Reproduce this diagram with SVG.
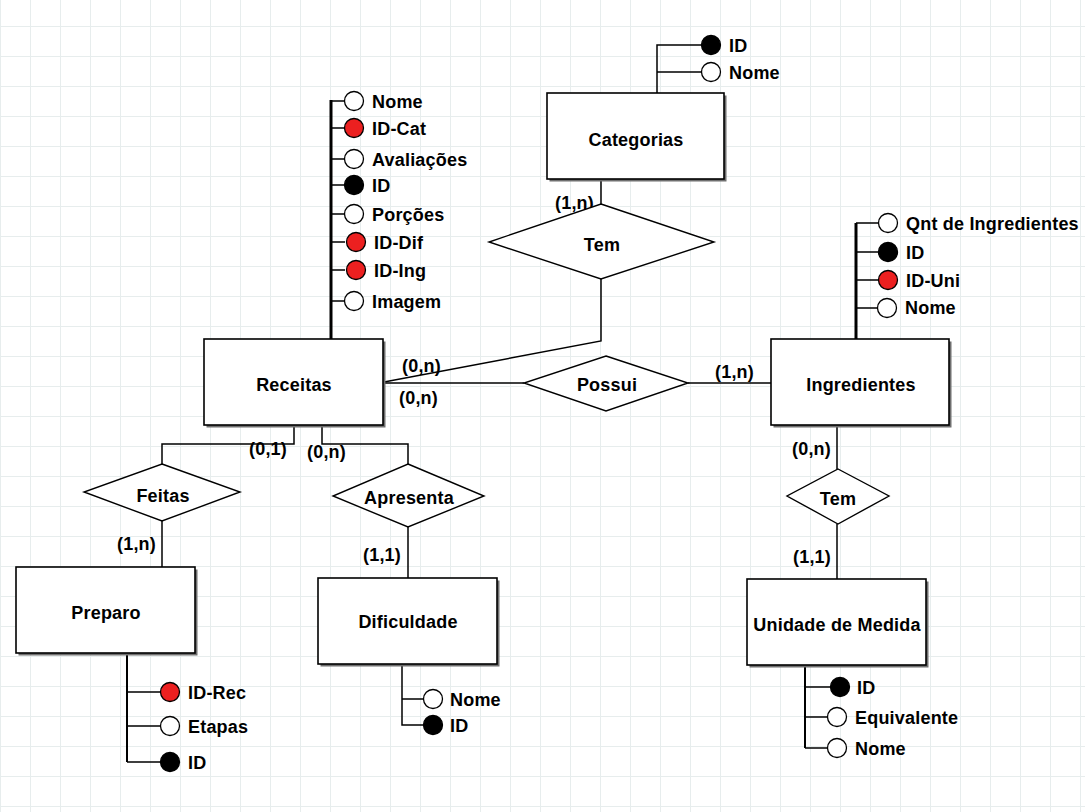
<svg xmlns="http://www.w3.org/2000/svg" width="1085" height="812" viewBox="0 0 1085 812">
<defs>
<pattern id="grid" width="30" height="30" patternUnits="userSpaceOnUse" x="0" y="26">
<path d="M0 0.5H30M0.5 0V30" fill="none" stroke="#e7eded" stroke-width="1"/>
</pattern>
<style>
text{font-family:"Liberation Sans",Arial,sans-serif;font-weight:bold;font-size:18px;letter-spacing:0.2px;fill:#000}
.c{text-anchor:middle}
.box{fill:#fff;stroke:#000;stroke-width:1.6}
.sh{fill:#6f6f6f}
.dia{fill:#fff;stroke:#000;stroke-width:1.4}
.ln{fill:none;stroke:#000;stroke-width:1.5}
.at{fill:none;stroke:#000;stroke-width:2}
.at3{fill:none;stroke:#000;stroke-width:3}
.o{fill:#fff;stroke:#000;stroke-width:1.3}
.k{fill:#000;stroke:#000;stroke-width:1.3}
.r{fill:#ec2020;stroke:#000;stroke-width:1.3}
</style>
</defs>
<rect width="1085" height="812" fill="#fff"/>
<rect width="1085" height="812" fill="url(#grid)"/>

<g id="connectors">
<path class="ln" d="M601 179V204"/>
<path class="ln" d="M601 279V341L384 382"/>
<path class="ln" d="M384 383H524"/>
<path class="ln" d="M688 383H771"/>
<path class="ln" d="M837 425V469"/>
<path class="ln" d="M837 524V579"/>
<path class="ln" d="M294 425V444H162V464"/>
<path class="ln" d="M322 425V444H408V464"/>
<path class="ln" d="M162 521V567"/>
<path class="ln" d="M408 527V578"/>
<text x="555" y="209">(1,n)</text>
<text x="402" y="372">(0,n)</text>
<text x="399" y="404">(0,n)</text>
<text x="715" y="378">(1,n)</text>
<text x="249" y="455">(0,1)</text>
<text x="307" y="458">(0,n)</text>
<text x="117" y="550">(1,n)</text>
<text x="363" y="561">(1,1)</text>
<text x="792" y="455">(0,n)</text>
<text x="793" y="563">(1,1)</text>
</g>

<g id="categorias">
<path class="ln" d="M657 93V45H701M657 72H701"/>
<circle class="k" cx="711" cy="45" r="9.5"/>
<circle class="o" cx="711" cy="72" r="9.5"/>
<text x="729" y="51.5">ID</text>
<text x="729" y="78.5">Nome</text>
<rect class="sh" x="549.5" y="95.5" width="177" height="86"/>
<rect class="box" x="547" y="93" width="177" height="86"/>
<text class="c" x="636" y="145.5">Categorias</text>
</g>

<g id="tem1">
<polygon class="dia" points="601,204 714,242 601,279 489,242"/>
<text class="c" x="602" y="251">Tem</text>
</g>

<g id="receitas">
<path class="at3" d="M331 100V339"/>
<path class="ln" d="M331 101H345M331 128H345M331 159H345M331 185H345M331 214H345M331 242H345M331 270H345M331 301H345"/>
<circle class="o" cx="354" cy="101" r="9.5"/>
<circle class="r" cx="354" cy="128" r="9.5"/>
<circle class="o" cx="354" cy="159" r="9.5"/>
<circle class="k" cx="354" cy="185" r="9.5"/>
<circle class="o" cx="354" cy="214" r="9.5"/>
<circle class="r" cx="356" cy="242" r="9.5"/>
<circle class="r" cx="356" cy="270" r="9.5"/>
<circle class="o" cx="354" cy="301" r="9.5"/>
<text x="372" y="107.5">Nome</text>
<text x="372" y="134.5">ID-Cat</text>
<text x="372" y="165.5">Avaliações</text>
<text x="372" y="191.5">ID</text>
<text x="372" y="220.5">Porções</text>
<text x="374" y="248.5">ID-Dif</text>
<text x="374" y="276.5">ID-Ing</text>
<text x="372" y="307.5">Imagem</text>
<rect class="sh" x="206.5" y="341.5" width="179" height="86"/>
<rect class="box" x="204" y="339" width="179" height="86"/>
<text class="c" x="294" y="390.5">Receitas</text>
</g>

<g id="possui">
<polygon class="dia" points="606,356 688,383 606,411 524,383"/>
<text class="c" x="607" y="391">Possui</text>
</g>

<g id="ingredientes">
<path class="at3" d="M856 223V339"/>
<path class="ln" d="M856 223H879M856 252H879M856 280H879M856 308H879"/>
<circle class="o" cx="888" cy="223" r="9.5"/>
<circle class="k" cx="888" cy="252" r="9.5"/>
<circle class="r" cx="888" cy="280" r="9.5"/>
<circle class="o" cx="887" cy="308" r="9.5"/>
<text x="906" y="229.5">Qnt de Ingredientes</text>
<text x="906" y="258.5">ID</text>
<text x="906" y="286.5">ID-Uni</text>
<text x="905" y="314">Nome</text>
<rect class="sh" x="773.5" y="341.5" width="178" height="86"/>
<rect class="box" x="771" y="339" width="178" height="86"/>
<text class="c" x="861" y="391">Ingredientes</text>
</g>

<g id="tem2">
<polygon class="dia" points="838,469 889,496 838,524 787,496"/>
<text class="c" x="838" y="505">Tem</text>
</g>

<g id="unidade">
<path class="at" d="M805 665V748"/>
<path class="ln" d="M805 687H831M805 717H828M805 748H828"/>
<circle class="k" cx="840" cy="687" r="9.5"/>
<circle class="o" cx="837" cy="717" r="9.5"/>
<circle class="o" cx="837" cy="748" r="9.5"/>
<text x="857" y="693.5">ID</text>
<text x="855" y="723.5">Equivalente</text>
<text x="855" y="754.5">Nome</text>
<rect class="sh" x="749.5" y="581.5" width="179" height="86"/>
<rect class="box" x="747" y="579" width="179" height="86"/>
<text class="c" x="837" y="631">Unidade de Medida</text>
</g>

<g id="feitas">
<polygon class="dia" points="162,464 240,492 162,521 84,492"/>
<text class="c" x="163" y="502">Feitas</text>
</g>

<g id="apresenta">
<polygon class="dia" points="408,464 484,496 408,527 333,496"/>
<text class="c" x="409" y="504">Apresenta</text>
</g>

<g id="preparo">
<path class="at" d="M127 653V762"/>
<path class="ln" d="M127 692H161M127 726H161M127 762H161"/>
<circle class="r" cx="170" cy="692" r="9.5"/>
<circle class="o" cx="170" cy="726" r="9.5"/>
<circle class="k" cx="170" cy="762" r="9.5"/>
<text x="188" y="698.5">ID-Rec</text>
<text x="188" y="732.5">Etapas</text>
<text x="188" y="768.5">ID</text>
<rect class="sh" x="18.5" y="569.5" width="179" height="86"/>
<rect class="box" x="16" y="567" width="179" height="86"/>
<text class="c" x="106" y="619">Preparo</text>
</g>

<g id="dificuldade">
<path class="ln" d="M402 664V725H424M402 699H424"/>
<circle class="o" cx="433" cy="699" r="9.5"/>
<circle class="k" cx="433" cy="725" r="9.5"/>
<text x="450" y="705.5">Nome</text>
<text x="450" y="731.5">ID</text>
<rect class="sh" x="320.5" y="580.5" width="179" height="86"/>
<rect class="box" x="318" y="578" width="179" height="86"/>
<text class="c" x="408" y="628">Dificuldade</text>
</g>
</svg>
